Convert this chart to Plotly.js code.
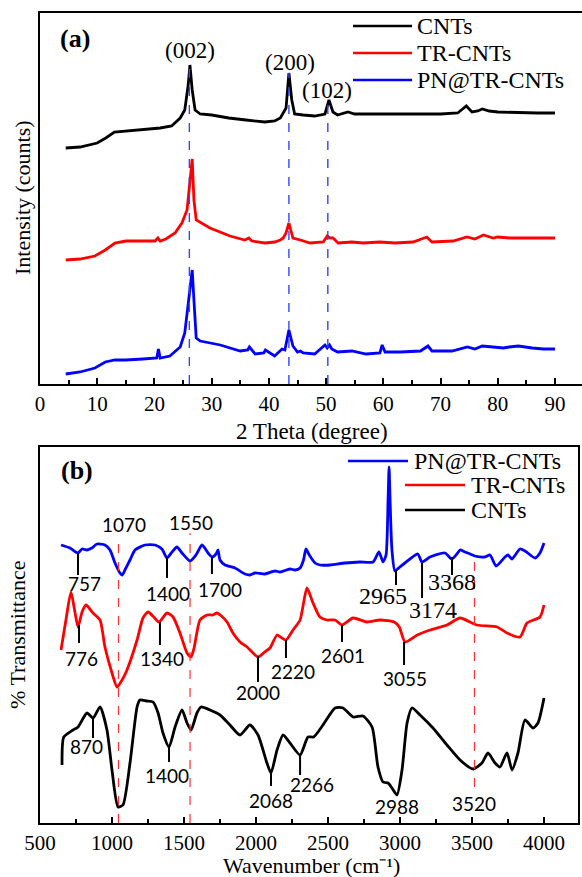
<!DOCTYPE html>
<html><head><meta charset="utf-8">
<script src="https://cdn.plot.ly/plotly-3.0.1.min.js"></script>
<style>html,body{margin:0;padding:0;background:#fff}</style>
</head><body><div id="chart" style="width:582px;height:877px"></div>
<script>
// ---------- (a) XRD data (2 theta, intensity in arbitrary counts) ----------
const seriesNames = ['CNTs', 'TR-CNTs', 'PN@TR-CNTs'];
const xrdCntsX = [4.5,7,10,11.5,13,15,18,21,23,24.5,25.3,25.9,26.2,26.6,27.1,28,30,33,36,39.3,41,42,43,43.5,44,44.5,46,48,49.8,50.5,51.2,52,53.8,55,58,62,66,70,73,74.5,75.5,76.5,77.3,78.5,80,84,87,90];
const xrdCntsY = [236,237,241,246,252,253,254,256,258,266,274,299,319,294,274,270,269,266,264,262,263,266,276,311,284,270,269,268,270,284,272,269,272,270,270,270,270,270,271,278,272,273,275,273,272,271,271,271];
const xrdTrX = [4.5,7,9.6,11.4,13.1,15,18,20.1,20.6,21,22,23.6,24.8,25.7,26,26.3,26.6,26.9,27.3,29.7,33.2,35.8,36.5,37,39.3,41,42,42.5,43,43.5,44.2,45.5,46,47.2,49.5,50.2,50.7,51.2,52.1,54.5,56.5,59.4,62,65.2,67.6,68.5,72.2,74.6,76,77.5,79.2,80,82,86,90];
const xrdTrY = [124,125,128,134,141,143,143,143,146,143,145,151,161,174,191,209,225,184,164,156,148,144,146,143,141,142,144,146,151,161,146,144,143,141,142,148,146,146,141,142,141,142,141,142,147,142,143,147,145,149,146,147,146,146,146];
const xrdPnX = [4.5,7,9.6,11.4,13.1,15,18,20.4,20.7,21,22.7,24.5,25.3,25.9,26.3,26.6,26.9,27.3,28,31.5,35,36.3,36.6,37.6,39.1,39.4,41,42.3,42.8,43.5,44.2,45,45.5,46,48,49.8,50.2,50.6,51,52,54.5,57,59.4,59.8,60.3,63,66.5,67.8,68.5,72,74.7,76,77.3,79,79.9,81,82,83.6,86,88,90];
const xrdPnY = [10,12,16,22,24,24,25,26,35,26,28,37,51,79,99,114,84,46,43,39,33,34,37,30,31,34,28,35,34,54,38,32,33,31,30,39,36,39,35,32,33,30,31,39,32,32,33,38,33,33,37,35,38,37,37,36,37,38,36,35,35];
const xrdPeakLabels = ['(002)', '(200)', '(102)'];
const xrdPeakPos = [26.1, 43.5, 50.3];
const xrdPeakTop = [322, 311, 284];
const xrdTicks = [0,10,20,30,40,50,60,70,80,90];

// ---------- (b) FTIR data (wavenumber, % transmittance, offset a.u.) ----------
const ftirPnX = [646,708,764,792,826,860,896,951,986,1021,1055,1070,1090,1125,1160,1229,1299,1347,1382,1417,1451,1486,1542,1583,1625,1667,1695,1722,1736,1750,1785,1854,1924,1958,1993,2062,2132,2167,2236,2271,2306,2330,2347,2370,2410,2444,2514,2618,2722,2813,2854,2882,2903,2917,2924,2931,2944,2965,2999,3069,3124,3152,3208,3312,3360,3400,3417,3450,3486,3520,3590,3625,3667,3729,3750,3778,3833,3868,3938,3972,4000];
const ftirPnY = [278,275,270,274,273,275,279,278,273,260,250,248,253,263,273,278,278,274,265,271,276,270,262,268,278,270,266,269,273,263,258,255,249,248,250,249,252,251,254,253,255,263,274,268,260,258,258,260,261,261,271,261,268,323,356,323,273,252,256,264,269,261,266,270,264,270,273,271,269,267,266,268,257,266,268,264,274,272,265,270,280];
const ftirTrX = [646,680,715,740,764,792,820,868,917,951,1000,1035,1070,1104,1174,1215,1250,1290,1326,1382,1424,1472,1521,1549,1570,1611,1660,1700,1729,1760,1799,1840,1889,1938,2014,2060,2097,2146,2170,2208,2257,2306,2354,2396,2444,2493,2549,2597,2674,2771,2861,2960,2995,3035,3120,3208,3326,3417,3535,3674,3743,3833,3882,3972,4000];
const ftirTrY = [173,203,231,213,196,211,218,210,203,176,150,136,143,153,183,205,211,206,201,210,206,190,170,166,175,203,208,208,210,207,201,190,181,176,166,171,175,188,186,183,193,203,235,220,206,203,203,198,205,201,203,201,196,181,188,193,198,205,198,196,190,186,200,206,218];
const ftirCntsX = [653,665,729,764,826,868,917,965,1000,1042,1076,1125,1174,1194,1240,1285,1320,1354,1396,1438,1486,1521,1549,1590,1618,1681,1750,1819,1889,1958,2014,2076,2104,2146,2188,2236,2306,2361,2400,2465,2549,2604,2674,2743,2806,2847,2882,2917,2944,2979,3014,3049,3083,3139,3229,3326,3417,3507,3569,3611,3660,3694,3743,3778,3819,3868,3924,3958,4000];
const ftirCntsY = [58,86,93,96,110,105,116,93,53,16,18,60,116,123,122,121,110,90,76,96,113,100,93,110,116,113,108,98,88,98,88,60,50,73,88,80,68,86,86,98,115,115,106,107,96,56,41,40,35,28,53,100,115,108,95,78,63,54,60,70,60,56,70,53,70,103,95,100,125];
const ftirRefLines = [1045, 1542, 3517];
const ftirRefTop = [282, 290, 270];
const ftirRefBottom = [0, 0, 36];
const ftirTicks = [500,1000,1500,2000,2500,3000,3500,4000];
const bandLabels = ['757','1400','1700','1070','1550','2965','3174','3368','776','1340','2000','2220','2601','3055','870','1400','2068','2266','2988','3520'];

// ---------- layout geometry ----------
const W = 582, H = 877, ML = 40, MR = 0, MT = 13, MB = 54;
const PW = W - ML - MR, PH = H - MT - MB;
const pX = px => (px - ML) / PW;
const pY = py => (H - MB - py) / PH;
const SERIF = 'Liberation Serif, Times New Roman, serif';
const SANS = 'Lato, Carlito, Calibri, sans-serif';
const colors = ['#000000', '#ff0000', '#0000ff'];

// band label placement: [lineX, lineY0, lineY1 or null, labelX, labelY, serif?]
const bandPlace = [
  [764,270,248, 806,240,false],
  [1382,266,245, 1389,230,false],
  [1694,266,249, 1750,234,false],
  [null,0,0, 1083,299,false],
  [null,0,0, 1549,301,false],
  [2972,253,238, 2882,227,true],
  [3153,260,225, 3229,213,true],
  [3361,266,248, 3361,241,true],
  [771,198,180, 785,165,false],
  [1333,201,178, 1347,165,false],
  [2014,167,141, 2014,131,false],
  [2208,183,165, 2257,152,false],
  [2597,198,181, 2604,168,false],
  [3028,181,158, 3035,145,false],
  [868,105,85, 826,77,false],
  [1396,76,61, 1382,48,false],
  [2104,50,37, 2104,23,false],
  [2306,68,48, 2389,39,false],
  [null,0,0, 2979,17,false],
  [null,0,0, 3514,20,false]
];

const lineW = 2.8;
const traces = [
  {x: xrdCntsX, y: xrdCntsY, xaxis:'x', yaxis:'y', mode:'lines', line:{color:colors[0], width:lineW}, name: seriesNames[0]},
  {x: xrdTrX, y: xrdTrY, xaxis:'x', yaxis:'y', mode:'lines', line:{color:colors[1], width:lineW}, name: seriesNames[1]},
  {x: xrdPnX, y: xrdPnY, xaxis:'x', yaxis:'y', mode:'lines', line:{color:colors[2], width:lineW}, name: seriesNames[2]},
  {x: ftirPnX, y: ftirPnY, xaxis:'x2', yaxis:'y2', mode:'lines', line:{color:colors[2], width:lineW, shape:'spline', smoothing:0.6}, name: seriesNames[2]},
  {x: ftirTrX, y: ftirTrY, xaxis:'x2', yaxis:'y2', mode:'lines', line:{color:colors[1], width:lineW, shape:'spline', smoothing:0.6}, name: seriesNames[1]},
  {x: ftirCntsX, y: ftirCntsY, xaxis:'x2', yaxis:'y2', mode:'lines', line:{color:colors[0], width:lineW, shape:'spline', smoothing:0.6}, name: seriesNames[0]}
];

const shapes = [];
const annotations = [];

// XRD reference dashed lines + labels
xrdPeakPos.forEach((x, i) => {
  shapes.push({type:'line', xref:'x', yref:'y', x0:x, x1:x, y0:0, y1:xrdPeakTop[i], line:{color:'#3344ff', width:1.4, dash:'dash'}, layer:'above'});
});
const xrdLabelPos = [[26.2,334],[43.7,322],[50.2,294]];
xrdPeakLabels.forEach((t, i) => {
  annotations.push({xref:'x', yref:'y', x:xrdLabelPos[i][0], y:xrdLabelPos[i][1], text:t, showarrow:false, xanchor:'center', yanchor:'middle', font:{family:SERIF, size:23, color:'#000'}});
});

// FTIR reference dashed lines
ftirRefLines.forEach((x, i) => {
  shapes.push({type:'line', xref:'x2', yref:'y2', x0:x, x1:x, y0:ftirRefBottom[i], y1:ftirRefTop[i], line:{color:'#ff3030', width:1.2, dash:'dash'}, layer:'above'});
});
bandLabels.forEach((t, i) => {
  const p = bandPlace[i];
  if (p[0] !== null) {
    shapes.push({type:'line', xref:'x2', yref:'y2', x0:p[0], x1:p[0], y0:p[1], y1:p[2], line:{color:'#000', width:2}});
  }
  annotations.push({xref:'x2', yref:'y2', x:p[3], y:p[4], text:t, showarrow:false, xanchor:'center', yanchor:'middle',
    font:{family: p[5] ? SERIF : SANS, size: p[5] ? 24 : 19, color:'#000'}});
});

// panel tags
annotations.push({xref:'paper', yref:'paper', x:pX(75), y:pY(38), text:'<b>(a)</b>', showarrow:false, xanchor:'center', yanchor:'middle', font:{family:SERIF, size:26, color:'#000'}});
annotations.push({xref:'paper', yref:'paper', x:pX(77), y:pY(470), text:'<b>(b)</b>', showarrow:false, xanchor:'center', yanchor:'middle', font:{family:SERIF, size:26, color:'#000'}});

// axis titles
annotations.push({xref:'paper', yref:'paper', x:pX(312), y:pY(431), text:'2 Theta (degree)', showarrow:false, xanchor:'center', yanchor:'middle', font:{family:SERIF, size:23, color:'#000'}});
annotations.push({xref:'paper', yref:'paper', x:pX(22), y:pY(198), text:'Intensity (counts)', textangle:-90, showarrow:false, xanchor:'center', yanchor:'middle', font:{family:SERIF, size:22, color:'#000'}});
annotations.push({xref:'paper', yref:'paper', x:pX(311), y:pY(865), text:'Wavenumber (cm\u207B\u00B9)', showarrow:false, xanchor:'center', yanchor:'middle', borderpad:0, font:{family:SERIF, size:22, color:'#000'}});
annotations.push({xref:'paper', yref:'paper', x:pX(17), y:pY(635), text:'% Transmittance', textangle:-90, showarrow:false, xanchor:'center', yanchor:'middle', font:{family:SERIF, size:22, color:'#000'}});

// legends (drawn as keys + text)
const legA = [[0,26],[1,53],[2,80]];
legA.forEach(([s, py]) => {
  shapes.push({type:'line', xref:'paper', yref:'paper', x0:pX(353), x1:pX(412), y0:pY(py), y1:pY(py), line:{color:colors[s], width:2.5}});
  annotations.push({xref:'paper', yref:'paper', x:pX(415), y:pY(py), text:seriesNames[s], showarrow:false, xanchor:'left', yanchor:'middle', font:{family:SERIF, size:24, color:'#000'}});
});
const legB = [[2,461,348,408,412],[1,485,405,465,469],[0,510,405,465,469]];
legB.forEach(([s, py, a, b, t]) => {
  shapes.push({type:'line', xref:'paper', yref:'paper', x0:pX(a), x1:pX(b), y0:pY(py), y1:pY(py), line:{color:colors[s], width:2.5}});
  annotations.push({xref:'paper', yref:'paper', x:pX(t), y:pY(py), text:seriesNames[s], showarrow:false, xanchor:'left', yanchor:'middle', font:{family:SERIF, size:24, color:'#000'}});
});

const tickFont = {family:SERIF, size:21, color:'#000'};
const commonX = {showline:true, linewidth:2, linecolor:'#000', mirror:true, ticks:'inside', ticklen:6, tickwidth:2, tickcolor:'#000',
  showgrid:false, zeroline:false, tickfont:tickFont, fixedrange:true};
const commonY = {showline:true, linewidth:2, linecolor:'#000', ticks:'', showticklabels:false, showgrid:false, zeroline:false, fixedrange:true};

const layout = {
  width: W, height: H,
  margin: {l:ML, r:MR, t:MT, b:MB, pad:0},
  paper_bgcolor:'#fff', plot_bgcolor:'#fff',
  showlegend:false,
  xaxis: Object.assign({}, commonX, {domain:[0,1], anchor:'y', range:[0,94.72], tickmode:'array', tickvals:xrdTicks, ticktext:xrdTicks.map(String),
    minor:{dtick:5, tick0:0, ticks:'inside', ticklen:4, tickwidth:2, tickcolor:'#000'}}),
  yaxis: Object.assign({}, commonY, {domain:[pY(384), 1], anchor:'x', range:[0,371], mirror:false}),
  xaxis2: Object.assign({}, commonX, {domain:[0, pX(578)], anchor:'y2', range:[500,4236], tickmode:'array', tickvals:ftirTicks, ticktext:ftirTicks.map(String),
    minor:{dtick:250, tick0:500, ticks:'inside', ticklen:4, tickwidth:2, tickcolor:'#000'}}),
  yaxis2: Object.assign({}, commonY, {domain:[0, pY(447)], anchor:'x2', range:[0,376], mirror:true}),
  shapes: shapes,
  annotations: annotations
};

Plotly.newPlot('chart', traces, layout, {displayModeBar:false, staticPlot:true});
</script>
</body></html>
